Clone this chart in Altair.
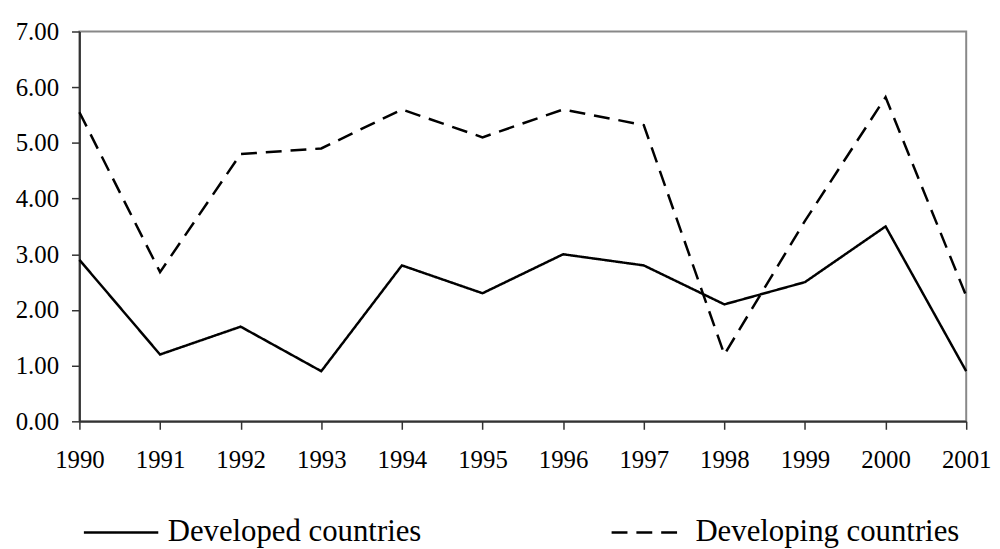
import altair as alt
import pandas as pd

years = [1990, 1991, 1992, 1993, 1994, 1995, 1996, 1997, 1998, 1999, 2000, 2001]
developed = [2.9, 1.2, 1.7, 0.9, 2.8, 2.3, 3.0, 2.8, 2.1, 2.5, 3.5, 0.9]
developing = [5.55, 2.68, 4.8, 4.9, 5.6, 5.1, 5.6, 5.32, 1.2, 3.6, 5.82, 2.25]
series_names = ["Developed countries", "Developing countries"]
y_ticks = [0, 1, 2, 3, 4, 5, 6, 7]

rows = []
for y, a, b in zip(years, developed, developing):
    rows.append({"year": y, "value": a, "series": series_names[0]})
    rows.append({"year": y, "value": b, "series": series_names[1]})
df = pd.DataFrame(rows)

FONT = "Liberation Serif"

chart = (
    alt.Chart(df)
    .mark_line(color="black", strokeWidth=2.5)
    .encode(
        x=alt.X(
            "year:Q",
            scale=alt.Scale(domain=[1990, 2001], nice=False, zero=False),
            axis=alt.Axis(
                values=years, format="d", title=None, grid=False,
                labelFlush=False, labelOverlap=False,
                tickSize=8, labelPadding=19,
            ),
        ),
        y=alt.Y(
            "value:Q",
            scale=alt.Scale(domain=[0, 7], nice=False),
            axis=alt.Axis(
                values=y_ticks, format=".2f", title=None, grid=False,
                labelFlush=False, labelOverlap=False,
                tickSize=8, labelPadding=13,
            ),
        ),
        strokeDash=alt.StrokeDash(
            "series:N",
            scale=alt.Scale(domain=series_names, range=[[1, 0], [16, 9]]),
            legend=alt.Legend(
                title=None, orient="none", legendX=3, legendY=466,
                direction="horizontal", symbolType="stroke", symbolSize=5625,
                symbolStrokeColor="black", symbolStrokeWidth=2.5,
                labelFont=FONT, labelFontSize=31, labelColor="black",
                labelLimit=0, labelOffset=8, columnPadding=186,
            ),
        ),
        detail="series:N",
    )
    .properties(
        width=894,
        height=393,
        autosize=alt.AutoSizeParams(type="none"),
        padding={"left": 72, "top": 21.5, "right": 26, "bottom": 126},
    )
    .configure_view(stroke="#888888", strokeWidth=2)
    .configure_axis(
        domainColor="#333333", domainWidth=2, tickColor="#333333", tickWidth=1.5,
        labelFont=FONT, labelFontSize=25, labelColor="black",
    )
)

chart.save("out.html", embed_options={"renderer": "svg", "actions": False})
